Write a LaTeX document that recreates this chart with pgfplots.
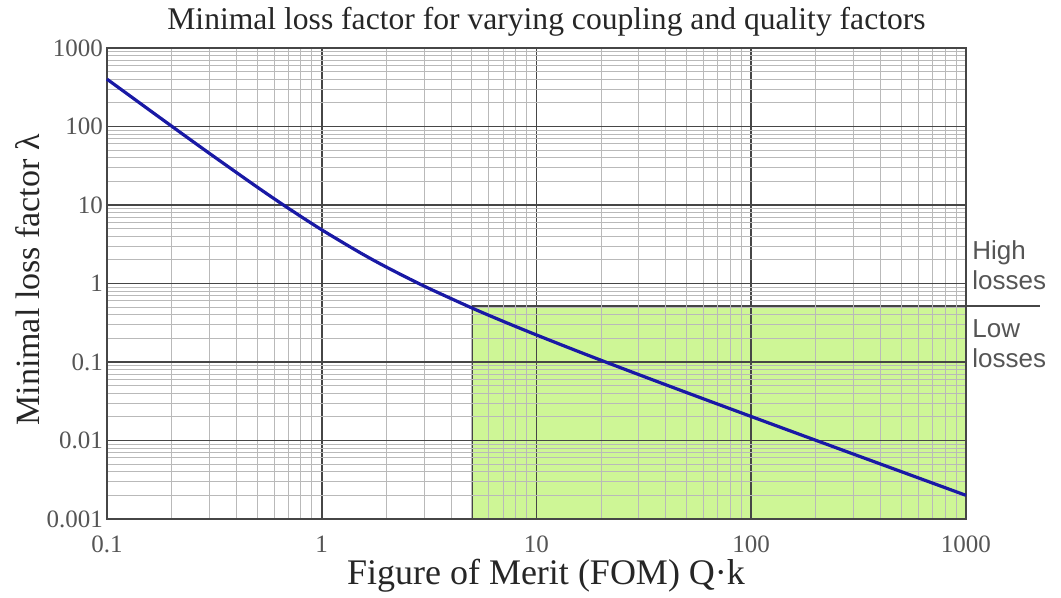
\documentclass[border=0pt]{standalone}
\usepackage{fontspec}
\setmainfont{Liberation Serif}
\newfontfamily\arialf{Liberation Sans}
\usepackage{pgfplots}
\pgfplotsset{compat=1.18}
\definecolor{majgrid}{RGB}{70,70,70}
\definecolor{mingrid}{RGB}{185,185,185}
\definecolor{tickgray}{RGB}{85,85,85}
\definecolor{lgreen}{RGB}{206,246,150}
\definecolor{curveblue}{RGB}{25,25,165}
\begin{document}
\begin{tikzpicture}
\begin{loglogaxis}[
  set layers,
  clip=false,
  at={(0pt,0pt)}, anchor=south west,
  scale only axis, width=429.5pt, height=235.5pt,
  xmin=0.1, xmax=1000, ymin=0.001, ymax=1000,
  xtick={0.1,1,10,100,1000}, xticklabels={0.1,1,10,100,1000},
  ytick={0.001,0.01,0.1,1,10,100,1000},
  yticklabels={0.001,0.01,0.1,1,10,100,1000},
  minor xtick={0.2,0.3,0.4,0.5,0.6,0.7,0.8,0.9,2,3,4,5,6,7,8,9,20,30,40,50,60,70,80,90,200,300,400,500,600,700,800,900},
  minor ytick={0.002,0.003,0.004,0.005,0.006,0.007,0.008,0.009,0.02,0.03,0.04,0.05,0.06,0.07,0.08,0.09,0.2,0.3,0.4,0.5,0.6,0.7,0.8,0.9,2,3,4,5,6,7,8,9,20,30,40,50,60,70,80,90,200,300,400,500,600,700,800,900},
  grid=both,
  major grid style={draw=majgrid, line width=0.9pt},
  minor grid style={draw=mingrid, line width=0.5pt},
  axis line style={draw=majgrid, line width=1pt},
  major tick length=0pt, minor tick length=0pt,
  tick style={draw=none},
  ticklabel style={font=\fontsize{12.5}{14}\selectfont, text=tickgray},
  yticklabel style={xshift=1.5pt},
  xticklabel style={yshift=-5pt},
]
\addplot[fill=lgreen, draw=majgrid, line width=0.9pt, on layer=axis background]
  coordinates {(5,0.001) (5,0.52) (1000,0.52) (1000,0.001) (5,0.001)};
\addplot[curveblue, line width=1.6pt, smooth, mark=none] coordinates {
 (0.1,401.0) (0.15,178.77) (0.2,100.99) (0.3,45.42) (0.5,16.94) (0.7,9.064)
 (1,4.828) (1.5,2.491) (2,1.618) (3,0.925) (5,0.4879) (7,0.3294)
 (10,0.2210) (15,0.1425) (20,0.1051) (30,0.06893) (50,0.0408) (70,0.02898)
 (100,0.0202) (150,0.01342) (200,0.01005) (300,0.006689) (500,0.004008)
 (700,0.002861) (1000,0.002001)};
\draw[majgrid, line width=0.8pt] (axis cs:1000,0.52) -- ++(37pt,0pt);
\node[anchor=base west, font=\arialf\fontsize{13}{15}\selectfont, text=tickgray, inner sep=0pt] at ([xshift=3pt,yshift=23pt]axis cs:1000,0.52) {High};
\node[anchor=base west, font=\arialf\fontsize{13}{15}\selectfont, text=tickgray, inner sep=0pt] at ([xshift=3pt,yshift=8pt]axis cs:1000,0.52) {losses};
\node[anchor=base west, font=\arialf\fontsize{13}{15}\selectfont, text=tickgray, inner sep=0pt] at ([xshift=3pt,yshift=-16pt]axis cs:1000,0.52) {Low};
\node[anchor=base west, font=\arialf\fontsize{13}{15}\selectfont, text=tickgray, inner sep=0pt] at ([xshift=3pt,yshift=-31pt]axis cs:1000,0.52) {losses};
\end{loglogaxis}
\node[anchor=base, inner sep=0pt, font=\fontsize{15.8}{18}\selectfont, text=black!85] at (219.75pt,244.5pt) {Minimal loss factor for varying coupling and quality factors};
\node[anchor=base, inner sep=0pt, font=\fontsize{18}{21}\selectfont, text=black!85] at (219.5pt,-33pt) {Figure of Merit (FOM) Q·k};
\node[anchor=base, inner sep=0pt, rotate=90, font=\fontsize{17}{20}\selectfont, text=black!85] at (-33.5pt,119.5pt) {Minimal loss factor λ};
\pgfresetboundingbox
\path[use as bounding box] (-53.5pt,-39.5pt) rectangle (477pt,259.5pt);
\end{tikzpicture}
\end{document}
